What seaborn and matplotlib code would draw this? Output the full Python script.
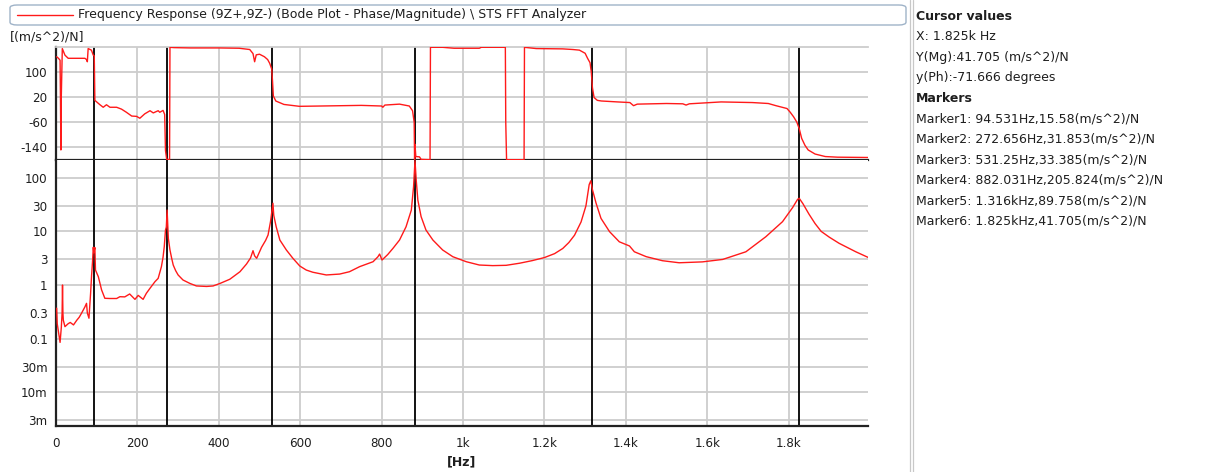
import numpy as np
import pandas as pd
import matplotlib
matplotlib.use("Agg")
import matplotlib.pyplot as plt
from matplotlib.patches import FancyBboxPatch
from matplotlib.lines import Line2D
import seaborn as sns

# ---------------- data ----------------
marker_freqs = [94.531, 272.656, 531.25, 882.031, 1316.0, 1825.0]

phase_freq = [1.6, 6, 10, 11, 12, 13, 15.5, 22, 30, 43, 59, 71, 75, 77, 79, 87, 91.6, 94, 95.5,
              108, 116, 124, 132.5, 149, 161, 173, 186, 198, 206, 218, 231, 239, 251, 255, 263, 267,
              269, 272, 279, 280, 290, 330, 400, 450, 476, 484, 488, 492, 500, 512, 520, 525, 530,
              532, 534, 540, 560, 598, 650, 700, 750, 800, 803, 808, 844, 868, 876, 880, 881, 882,
              884, 893, 897, 919, 920, 950, 978, 1040, 1045, 1104, 1105, 1107, 1150, 1151, 1180,
              1245, 1270, 1286, 1300, 1306, 1312, 1315, 1318, 1322, 1330, 1340, 1380, 1410, 1419,
              1428, 1500, 1540, 1548, 1556, 1634, 1711, 1750, 1769, 1796, 1804, 1812, 1820, 1826,
              1832, 1840, 1848, 1865, 1890, 1920, 1995]
phase_deg = [149, 144, 138, 13, -148, 20, 175, 154, 144, 144, 144, 144, 140, 133, 175, 170, 154, 152, 10,
             -4, -12, -4, -12, -12, -18, -28, -40, -41, -47, -33, -23, -30, -23, -28, -22, -35,
             -150, -178, -179, 179, 178, 177, 177, 176, 172, 159, 133, 155, 157, 149, 140, 128, 110,
             71, 24, 8, -3, -9, -8, -7, -6, -8, -12, -5, -2, -8, -23, -60, -179, -130,
             -169, -170, -178, -179, 179, 179, 176, 176, 179, 179, -59, -179, -179, 179, 175,
             174, 172, 170, 160, 144, 130, 102, 50, 19, 10, 8, 5, 3, -7,
             -2, 0, -1, -5, -1, 5, 3, 0, -7, -16, -28, -42, -59, -80,
             -111, -133, -148, -161, -169, -171, -172]

mag_freq = [1.6, 3, 10, 13, 15, 16, 17, 18, 22, 30, 35, 43, 51, 57, 63, 71, 75, 77, 81, 85,
            87.5, 90, 91.6, 93, 95.5, 97, 104, 112, 120, 132.5, 149, 157, 169, 181, 194, 202, 214,
            222, 231, 243, 251, 259, 263, 266, 269, 271, 273, 276, 280, 284, 288, 294, 300, 312,
            329, 345, 370, 386, 403, 427, 452, 468, 478, 484, 488, 493, 505, 515, 521, 527, 531,
            533, 535, 541, 550, 566, 582, 599, 615, 631, 664, 697, 721, 746, 779, 791, 795, 801,
            815, 828, 844, 860, 873, 878.5, 882, 885, 889, 897, 909, 926, 950, 975, 1008, 1040,
            1073, 1106, 1139, 1170, 1200, 1225, 1245, 1260, 1274, 1290, 1302, 1310, 1314, 1318,
            1327, 1339, 1360, 1384, 1409, 1421, 1450, 1490, 1531, 1588, 1638, 1695, 1744, 1785,
            1810, 1822, 1826, 1835, 1850, 1865, 1880, 1900, 1924, 1965, 1995]
mag_val = [0.37, 0.19, 0.085, 0.16, 0.3, 1.0, 0.3, 0.22, 0.167, 0.19, 0.2, 0.18, 0.22, 0.25, 0.30,
           0.39, 0.455, 0.3, 0.24, 0.70, 1.54, 2.93, 5.05, 4.0, 5.0, 1.9, 1.43, 0.81, 0.565, 0.56,
           0.56, 0.605, 0.6, 0.68, 0.54, 0.64, 0.54, 0.7, 0.87, 1.15, 1.33, 2.2, 3.3, 5.2, 10.6,
           12, 25, 7.4, 4.5, 3.2, 2.36, 1.85, 1.54, 1.24, 1.07, 0.96, 0.94, 0.96, 1.07, 1.28,
           1.77, 2.46, 3.2, 4.37, 3.5, 3.15, 5.05, 6.8, 8.57, 15.2, 26, 33.5, 20, 12.2, 6.9, 4.5,
           3.15, 2.26, 1.9, 1.73, 1.54, 1.6, 1.77, 2.2, 2.72, 3.37, 3.78, 2.93, 3.7, 4.84, 6.9,
           12.2, 25, 68, 210, 91, 38.5, 18.9, 10.6, 6.9, 4.5, 3.37, 2.72, 2.36, 2.3, 2.33, 2.55,
           2.85, 3.25, 3.85, 4.8, 6.2, 8.5, 15, 30, 75, 88, 60, 33.4, 17.5, 9.9, 6.4, 5.35,
           4.17, 3.38, 2.84, 2.6, 2.7, 3.0, 4.17, 7.96, 15.2, 28, 39.6, 41.5, 33, 21, 14, 10, 7.8,
           6.0, 4.17, 3.28]

x_ticks = [0, 200, 400, 600, 800, 1000, 1200, 1400, 1600, 1800]
x_tick_labels = ["0", "200", "400", "600", "800", "1k", "1.2k", "1.4k", "1.6k", "1.8k"]
phase_ticks = [100, 20, -60, -140]
mag_ticks = [100, 30, 10, 3, 1, 0.3, 0.1, 0.03, 0.01, 0.003]
mag_tick_labels = ["100", "30", "10", "3", "1", "0.3", "0.1", "30m", "10m", "3m"]

legend_text = "Frequency Response (9Z+,9Z-) (Bode Plot - Phase/Magnitude) \\ STS FFT Analyzer"
unit_text = "[(m/s^2)/N]"
panel_lines = [
    ("Cursor values", True),
    ("X: 1.825k Hz", False),
    ("Y(Mg):41.705 (m/s^2)/N", False),
    ("y(Ph):-71.666 degrees", False),
    ("Markers", True),
    ("Marker1: 94.531Hz,15.58(m/s^2)/N", False),
    ("Marker2: 272.656Hz,31.853(m/s^2)/N", False),
    ("Marker3: 531.25Hz,33.385(m/s^2)/N", False),
    ("Marker4: 882.031Hz,205.824(m/s^2)/N", False),
    ("Marker5: 1.316kHz,89.758(m/s^2)/N", False),
    ("Marker6: 1.825kHz,41.705(m/s^2)/N", False),
]

assert len(phase_freq) == len(phase_deg), (len(phase_freq), len(phase_deg))
assert len(mag_freq) == len(mag_val), (len(mag_freq), len(mag_val))

phase_df = pd.DataFrame({"freq": phase_freq, "deg": phase_deg})
mag_df = pd.DataFrame({"freq": mag_freq, "mag": mag_val})

# ---------------- style ----------------
sns.set_style("white")
plt.rcParams["font.family"] = ["DejaVu Sans"]
TXT = "#1e1e1e"
GRID = "#cdcdcd"
RED = "#ff1a1a"

W, H = 1212, 472
fig = plt.figure(figsize=(W / 100, H / 100), dpi=100)

L, R = 56, 868
ax_ph = fig.add_axes([L / W, 1 - 160 / H, (R - L) / W, (160 - 47) / H])
ax_mg = fig.add_axes([L / W, 1 - 426 / H, (R - L) / W, (426 - 160) / H])

XMAX = 1995

# phase panel
sns.lineplot(data=phase_df, x="freq", y="deg", ax=ax_ph, color=RED, lw=1.0,
             estimator=None, sort=False, zorder=3)
ax_ph.set_xlim(0, XMAX)
ax_ph.set_ylim(-180, 180)
ax_ph.set_yticks(phase_ticks)
ax_ph.set_yticklabels([str(t) for t in phase_ticks])
ax_ph.set_xticks(x_ticks)
ax_ph.tick_params(axis="x", length=0, labelbottom=False)

# magnitude panel
ax_mg.set_yscale("log")
sns.lineplot(data=mag_df, x="freq", y="mag", ax=ax_mg, color=RED, lw=1.0,
             estimator=None, sort=False, zorder=3)
ax_mg.set_xlim(0, XMAX)
ax_mg.set_ylim(0.00234, 215)
ax_mg.set_yticks(mag_ticks)
ax_mg.set_yticklabels(mag_tick_labels)
ax_mg.yaxis.set_minor_locator(matplotlib.ticker.NullLocator())
ax_mg.set_xticks(x_ticks)
ax_mg.set_xticklabels(x_tick_labels)

for ax in (ax_ph, ax_mg):
    ax.set_xlabel("")
    ax.set_ylabel("")
    ax.grid(True, color=GRID, lw=1.3, zorder=0)
    ax.set_axisbelow(True)
    for fm in marker_freqs:
        ax.axvline(fm, color="black", lw=1.3, zorder=2)
    ax.spines["right"].set_visible(False)
    ax.spines["left"].set_color("#222222")
    ax.spines["left"].set_linewidth(1.6)
    ax.spines["bottom"].set_color("#222222")
    ax.spines["bottom"].set_linewidth(1.6)
    ax.tick_params(axis="y", direction="out", length=5, width=1.2, color="#222222",
                   labelsize=8.6, labelcolor=TXT, pad=1)
    ax.tick_params(axis="x", direction="out", length=5, width=1.2, color="#222222",
                   labelsize=8.6, labelcolor=TXT, pad=3)
    ax.set_facecolor("white")

ax_ph.spines["top"].set_color(GRID)
ax_ph.spines["top"].set_linewidth(1.3)
ax_mg.spines["top"].set_visible(False)

ax_mg.set_xlabel("[Hz]", fontsize=9, fontweight="bold", color=TXT, labelpad=4)

# legend box on top
box = FancyBboxPatch((10 / W, 1 - 25 / H), (906 - 10) / W, 20 / H,
                     boxstyle="round,pad=0,rounding_size=0.006",
                     transform=fig.transFigure, fc="white", ec="#9fb3c8", lw=1.0)
fig.patches.append(box)
fig.add_artist(Line2D([17 / W, 73 / W], [1 - 14.5 / H, 1 - 14.5 / H], color=RED, lw=1.0,
                      transform=fig.transFigure))
fig.text(78 / W, 1 - 14.5 / H, legend_text, fontsize=9, color=TXT, va="center", ha="left")
fig.text(10 / W, 1 - 37 / H, unit_text, fontsize=9, color=TXT, va="center", ha="left")

# right info panel
for xs in (910, 912.5):
    fig.add_artist(Line2D([xs / W, xs / W], [0, 1], color="#c8c8c8", lw=0.9,
                          transform=fig.transFigure))
y0, dy = 16.5, 20.45
for i, (txt, bold) in enumerate(panel_lines):
    fig.text(916 / W, 1 - (y0 + i * dy) / H, txt, fontsize=9, color=TXT,
             fontweight="bold" if bold else "normal", va="center", ha="left")

fig.savefig("out.png", dpi=100, facecolor="white")
